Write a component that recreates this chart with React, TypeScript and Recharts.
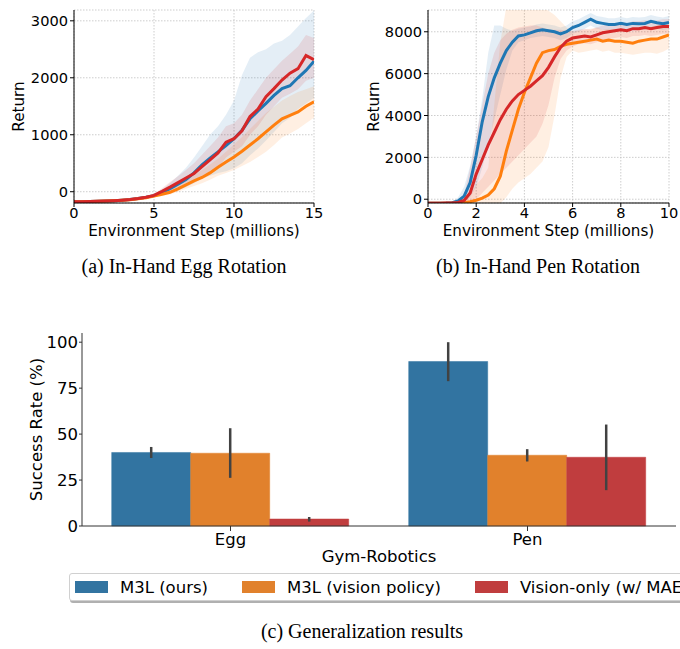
import React from 'react';
import {
  ComposedChart,
  Area,
  Line,
  XAxis,
  YAxis,
  CartesianGrid,
  BarChart,
  Bar,
  ErrorBar,
  Label,
} from 'recharts';

const FONT = '"DejaVu Sans", sans-serif';
const SERIF = '"Liberation Serif", serif';

// 3 methods, same order everywhere
const series = [
  { key: 'ours', name: 'M3L (ours)', line: '#1f77b4', bar: '#3274a1' },
  { key: 'vision', name: 'M3L (vision policy)', line: '#ff7f0e', bar: '#e1812c' },
  { key: 'only', name: 'Vision-only (w/ MAE)', line: '#d62728', bar: '#c03d3e' },
];

// (a) In-Hand Egg Rotation
const eggSteps = [0, 0.5, 1, 1.5, 2, 2.5, 3, 3.5, 4, 4.5, 5, 5.5, 6, 6.5, 7, 7.5, 8, 8.5, 9, 9.5, 10, 10.5, 11, 11.5, 12, 12.5, 13, 13.5, 14, 14.5, 15];
const eggOurs = [-175, -174, -172, -169, -165, -158, -149, -137, -120, -98, -68, -15, 55, 130, 215, 330, 470, 590, 700, 810, 930, 1080, 1280, 1420, 1550, 1690, 1810, 1860, 2000, 2130, 2290];
const eggOursLo = [-190, -189, -187, -184, -180, -173, -164, -152, -136, -116, -92, -60, -20, 20, 80, 150, 230, 280, 330, 360, 410, 500, 640, 760, 900, 1050, 1200, 1300, 1450, 1550, 1650];
const eggOursHi = [-160, -159, -157, -154, -150, -143, -134, -122, -104, -80, -42, 30, 150, 280, 420, 600, 800, 1000, 1150, 1350, 1600, 2050, 2350, 2450, 2500, 2600, 2650, 2750, 2900, 3050, 3180];
const eggVision = [-175, -174, -172, -169, -165, -158, -150, -140, -125, -105, -75, -45, -10, 50, 120, 190, 250, 330, 430, 520, 610, 710, 820, 930, 1050, 1170, 1280, 1340, 1400, 1500, 1580];
const eggVisionLo = [-190, -189, -187, -184, -180, -173, -165, -155, -140, -120, -95, -75, -50, 0, 50, 100, 150, 210, 280, 330, 380, 450, 520, 610, 700, 820, 950, 1020, 1100, 1200, 1300];
const eggVisionHi = [-160, -159, -157, -154, -150, -143, -135, -125, -110, -90, -55, -15, 30, 110, 200, 290, 380, 480, 580, 700, 830, 960, 1100, 1240, 1380, 1490, 1600, 1680, 1750, 1800, 1850];
const eggOnly = [-175, -174, -172, -169, -165, -158, -149, -137, -120, -98, -65, 5, 80, 160, 240, 320, 440, 560, 680, 870, 930, 1070, 1320, 1450, 1670, 1810, 1960, 2080, 2160, 2390, 2320];
const eggOnlyLo = [-190, -189, -187, -184, -180, -173, -164, -152, -136, -116, -90, -40, 10, 60, 120, 180, 250, 330, 420, 600, 700, 800, 1000, 1150, 1350, 1500, 1650, 1720, 1800, 1950, 2000];
const eggOnlyHi = [-160, -159, -157, -154, -150, -143, -134, -122, -104, -80, -40, 60, 170, 270, 380, 500, 650, 800, 950, 1150, 1200, 1350, 1600, 1800, 2000, 2150, 2300, 2420, 2550, 2750, 2700];

// (b) In-Hand Pen Rotation
const penSteps = [0, 0.25, 0.5, 0.75, 1, 1.25, 1.5, 1.75, 2, 2.25, 2.5, 2.75, 3, 3.25, 3.5, 3.75, 4, 4.25, 4.5, 4.75, 5, 5.25, 5.5, 5.75, 6, 6.25, 6.5, 6.75, 7, 7.25, 7.5, 7.75, 8, 8.25, 8.5, 8.75, 9, 9.25, 9.5, 9.75, 10];
const penOurs = [-190, -190, -188, -185, -170, -80, 150, 800, 2100, 3700, 4900, 5800, 6500, 7100, 7500, 7800, 7850, 7950, 8050, 8100, 8050, 8000, 7900, 8000, 8200, 8300, 8450, 8600, 8450, 8400, 8350, 8350, 8400, 8350, 8400, 8380, 8400, 8500, 8430, 8380, 8450];
const penOursLo = [-200, -200, -200, -200, -200, -190, -100, 100, 600, 1500, 2600, 3800, 5000, 6200, 7100, 7500, 7600, 7700, 7750, 7800, 7750, 7700, 7600, 7700, 7900, 8000, 8150, 8300, 8150, 8100, 8050, 8050, 8100, 8050, 8100, 8080, 8100, 8200, 8130, 8080, 8150];
const penOursHi = [-170, -170, -170, -170, -140, 100, 600, 1600, 3000, 4800, 7000, 8300, 8300, 8150, 8050, 8150, 8200, 8250, 8350, 8400, 8350, 8300, 8200, 8300, 8500, 8600, 8750, 8900, 8750, 8700, 8650, 8650, 8700, 8650, 8700, 8680, 8700, 8800, 8730, 8680, 8750];
const penVision = [-190, -190, -190, -190, -190, -185, -170, -120, -50, 50, 200, 500, 1100, 2300, 3300, 4300, 5100, 5800, 6500, 7000, 7100, 7150, 7300, 7400, 7450, 7500, 7550, 7600, 7650, 7550, 7600, 7550, 7550, 7500, 7450, 7550, 7600, 7650, 7650, 7750, 7850];
const penVisionLo = [-200, -200, -200, -200, -200, -200, -200, -200, -200, -200, -200, -200, -200, 100, 500, 800, 1000, 1200, 1500, 1800, 2500, 4000, 5800, 6800, 7100, 7000, 7050, 7100, 7150, 7050, 7100, 7000, 7000, 6950, 6900, 6950, 7000, 7000, 6950, 7050, 7200];
const penVisionHi = [-170, -170, -170, -170, -170, -160, -120, 200, 700, 1000, 1500, 4500, 7500, 9200, 9300, 9300, 9300, 9300, 9300, 9200, 9000, 8800, 8500, 8200, 8000, 8050, 8100, 8150, 8200, 8100, 8150, 8100, 8100, 8050, 8000, 8100, 8150, 8250, 8300, 8400, 8500];
const penOnly = [-190, -190, -188, -185, -180, -150, -60, 300, 1200, 1900, 2600, 3200, 3800, 4300, 4700, 5000, 5200, 5400, 5650, 5900, 6300, 6800, 7250, 7550, 7700, 7750, 7800, 7750, 7850, 7950, 8000, 8050, 8100, 8050, 8150, 8150, 8200, 8150, 8200, 8250, 8250];
const penOnlyLo = [-200, -200, -200, -200, -200, -200, -200, -200, 0, 300, 600, 900, 1200, 1500, 1800, 2100, 2400, 2700, 3000, 3600, 4500, 5800, 6700, 7100, 7300, 7400, 7450, 7400, 7500, 7600, 7650, 7700, 7750, 7700, 7800, 7800, 7850, 7800, 7850, 7900, 7900];
const penOnlyHi = [-170, -170, -170, -170, -160, -80, 200, 1500, 3000, 4500, 6000, 7000, 7600, 7900, 8100, 8200, 8250, 8300, 8300, 8200, 8100, 8100, 8100, 8050, 8050, 8100, 8150, 8100, 8200, 8300, 8350, 8400, 8450, 8400, 8500, 8500, 8550, 8500, 8550, 8600, 8600];

// (c) Generalization results
const tasks = ['Egg', 'Pen'];
const successOurs = [40.0, 89.5];
const successOursCi = [[37.0, 43.0], [78.8, 100.0]];
const successVision = [39.6, 38.5];
const successVisionCi = [[26.2, 53.2], [35.1, 41.8]];
const successOnly = [3.8, 37.4];
const successOnlyCi = [[2.4, 4.9], [19.5, 55.2]];

const buildRows = (steps: number[], means: number[][], los: number[][], his: number[][]) =>
  steps.map((x, i) => {
    const r: any = { x };
    series.forEach((s, j) => {
      r[s.key] = means[j][i];
      r[s.key + 'Band'] = [los[j][i], his[j][i]];
    });
    return r;
  });

const eggRows = buildRows(
  eggSteps,
  [eggOurs, eggVision, eggOnly],
  [eggOursLo, eggVisionLo, eggOnlyLo],
  [eggOursHi, eggVisionHi, eggOnlyHi]
);
const penRows = buildRows(
  penSteps,
  [penOurs, penVision, penOnly],
  [penOursLo, penVisionLo, penOnlyLo],
  [penOursHi, penVisionHi, penOnlyHi]
);

const barRows = tasks.map((name, i) => {
  const vals = [successOurs[i], successVision[i], successOnly[i]];
  const cis = [successOursCi[i], successVisionCi[i], successOnlyCi[i]];
  const r: any = { name };
  series.forEach((s, j) => {
    r[s.key] = vals[j];
    r[s.key + 'Err'] = [vals[j] - cis[j][0], cis[j][1] - vals[j]];
  });
  return r;
});

// axis titles drawn at a fixed distance from the axis box
const yTitle = (text: string, dx: number, size: number) => (props: any) => {
  const vb = props.viewBox;
  const cx = vb.x + dx;
  const cy = vb.y + vb.height / 2;
  return (
    <text x={cx} y={cy} transform={`rotate(-90 ${cx} ${cy})`} textAnchor="middle" dominantBaseline="central" fontSize={size} fontFamily={FONT} fill="#000">
      {text}
    </text>
  );
};
const xTitle = (text: string, dy: number, size: number) => (props: any) => {
  const vb = props.viewBox;
  return (
    <text x={vb.x + vb.width / 2} y={vb.y + dy} textAnchor="middle" fontSize={size} fontFamily={FONT} fill="#000">
      {text}
    </text>
  );
};

type PanelProps = {
  rows: any[];
  left: number;
  xMax: number;
  xTicks: number[];
  yDomain: [number, number];
  yTicks: number[];
  yAxisWidth: number;
  rightMargin: number;
  titleX: number;
};

const CurvePanel = ({ rows, left, xMax, xTicks, yDomain, yTicks, yAxisWidth, rightMargin, titleX }: PanelProps) => {
  const tick = { fontSize: 14.6, fill: '#000', fontFamily: FONT };
  return (
    <div style={{ position: 'absolute', left, top: 0 }}>
      <ComposedChart width={340} height={240} data={rows} margin={{ top: 10, right: rightMargin, left: 0, bottom: 0 }}>
        <CartesianGrid stroke="#c0c0c0" strokeDasharray="1.5 1.5" strokeWidth={0.8} />
        <XAxis
          dataKey="x"
          type="number"
          domain={[0, xMax]}
          ticks={xTicks}
          allowDataOverflow
          height={37}
          tickSize={4}
          tickMargin={1}
          tick={tick}
          axisLine={{ stroke: '#000' }}
          tickLine={{ stroke: '#000' }}
        >
          <Label content={xTitle('Environment Step (millions)', 33, 15.2)} />
        </XAxis>
        <YAxis
          type="number"
          domain={yDomain}
          ticks={yTicks}
          allowDataOverflow
          width={yAxisWidth}
          tickSize={4}
          tickMargin={2}
          tick={tick}
          axisLine={{ stroke: '#000' }}
          tickLine={{ stroke: '#000' }}
        >
          <Label content={yTitle('Return', titleX, 15.2)} />
        </YAxis>
        <XAxis xAxisId="top" orientation="top" height={0} tick={false} tickLine={false} axisLine={{ stroke: '#000' }} />
        <YAxis yAxisId="right" orientation="right" width={0} tick={false} tickLine={false} axisLine={{ stroke: '#000' }} />
        {series.map((s) => (
          <Area
            key={s.key + 'Band'}
            dataKey={s.key + 'Band'}
            type="linear"
            stroke="none"
            fill={s.line}
            fillOpacity={0.12}
            dot={false}
            activeDot={false}
            isAnimationActive={false}
          />
        ))}
        {series.map((s) => (
          <Line
            key={s.key}
            dataKey={s.key}
            type="linear"
            stroke={s.line}
            strokeWidth={3}
            dot={false}
            activeDot={false}
            isAnimationActive={false}
          />
        ))}
      </ComposedChart>
    </div>
  );
};

const caption = (text: string, left: number, top: number, width: number) => (
  <div
    style={{
      position: 'absolute',
      left,
      top,
      width,
      textAlign: 'center',
      fontFamily: SERIF,
      fontSize: 20,
      lineHeight: '20px',
      color: '#000',
      whiteSpace: 'nowrap',
    }}
  >
    {text}
  </div>
);

export default function App() {
  const tick = { fontSize: 16.5, fill: '#000', fontFamily: FONT };
  return (
    <div style={{ position: 'absolute', left: 0, top: 0, width: 680, height: 649, overflow: 'hidden', background: '#fff' }}>
      <CurvePanel
        rows={eggRows}
        left={0}
        xMax={15}
        xTicks={[0, 5, 10, 15]}
        yDomain={[-198, 3190]}
        yTicks={[0, 1000, 2000, 3000]}
        yAxisWidth={74}
        rightMargin={26}
        titleX={19}
      />
      <CurvePanel
        rows={penRows}
        left={340}
        xMax={10}
        xTicks={[0, 2, 4, 6, 8, 10]}
        yDomain={[-180, 9040]}
        yTicks={[0, 2000, 4000, 6000, 8000]}
        yAxisWidth={88}
        rightMargin={11}
        titleX={34}
      />
      {caption('(a) In-Hand Egg Rotation', 64, 256, 240)}
      {caption('(b) In-Hand Pen Rotation', 418, 256, 240)}

      <div style={{ position: 'absolute', left: 0, top: 320 }}>
        <BarChart width={680} height={260} data={barRows} margin={{ top: 13, right: 4, left: 0, bottom: 0 }} barCategoryGap="10%" barGap={0}>
          <XAxis
            dataKey="name"
            height={54}
            tickSize={5}
            tickMargin={2}
            tick={tick}
            axisLine={{ stroke: '#333' }}
            tickLine={{ stroke: '#333' }}
          >
            <Label content={xTitle('Gym-Robotics', 36, 16.5)} />
          </XAxis>
          <YAxis
            type="number"
            domain={[0, 105]}
            ticks={[0, 25, 50, 75, 100]}
            width={82}
            tickSize={3}
            tickMargin={1}
            tick={tick}
            axisLine={{ stroke: '#333' }}
            tickLine={{ stroke: '#333' }}
          >
            <Label content={yTitle('Success Rate (%)', 36, 16.5)} />
          </YAxis>
          <XAxis xAxisId="top" orientation="top" height={0} tick={false} tickLine={false} axisLine={{ stroke: '#333' }} />
          <YAxis yAxisId="right" orientation="right" width={0} tick={false} tickLine={false} axisLine={{ stroke: '#333' }} />
          {series.map((s) => (
            <Bar key={s.key} dataKey={s.key} fill={s.bar} stroke={s.bar} strokeWidth={0.5} isAnimationActive={false}>
              <ErrorBar dataKey={s.key + 'Err'} direction="y" width={0} stroke="#424242" strokeWidth={2.5} />
            </Bar>
          ))}
        </BarChart>
      </div>

      <div
        style={{
          position: 'absolute',
          left: 69,
          top: 573,
          width: 640,
          height: 28,
          border: '1px solid #d0d0d0',
          borderRadius: 3,
          boxShadow: '1px 2px 0 #b0b0b0',
          display: 'flex',
          alignItems: 'center',
          paddingLeft: 5,
          boxSizing: 'border-box',
          fontFamily: FONT,
          fontSize: 16.5,
          color: '#000',
          background: '#fff',
        }}
      >
        {series.map((s) => (
          <div key={s.key} style={{ display: 'flex', alignItems: 'center', marginRight: 34, whiteSpace: 'nowrap' }}>
            <span style={{ display: 'inline-block', width: 33, height: 12, background: s.bar, marginRight: 12 }} />
            <span>{s.name}</span>
          </div>
        ))}
      </div>
      {caption('(c) Generalization results', 212, 621, 300)}
    </div>
  );
}
